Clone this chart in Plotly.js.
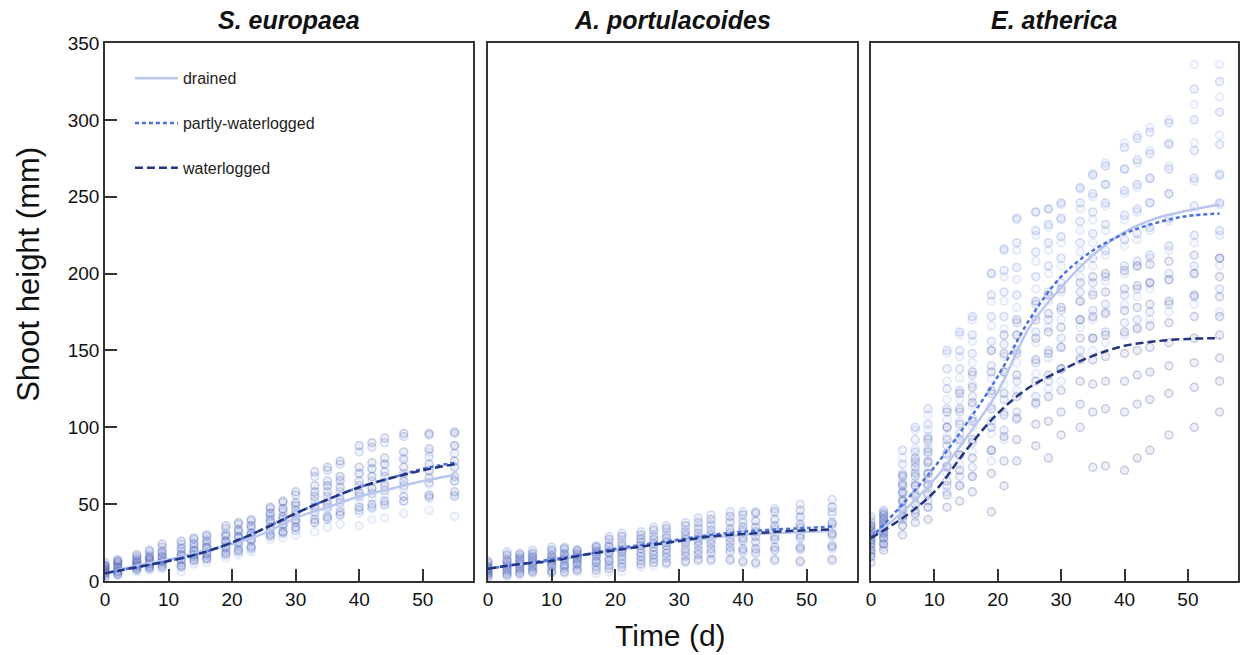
<!DOCTYPE html>
<html>
<head>
<meta charset="utf-8">
<script src="https://cdn.plot.ly/plotly-3.0.1.min.js"></script>
<style>html,body{margin:0;padding:0;background:#fff;}#chart{width:1241px;height:655px;}</style>
</head>
<body>
<div id="chart"></div>
<script>
// ---------- data ----------
const panelTitles = ["S. europaea", "A. portulacoides", "E. atherica"];
const treatments = ["drained", "partly-waterlogged", "waterlogged"];

// sampling days (scatter)
const daysSE = [0,2,5,7,9,12,14,16,19,21,23,26,28,30,33,35,37,40,42,44,47,51,55];
const daysAP = [0,3,5,7,10,12,14,17,19,21,24,26,28,31,33,35,38,40,42,45,49,54];
const daysEA = [0,2,5,7,9,12,14,16,19,21,23,26,28,30,33,35,37,40,42,44,47,51,55];

// S. europaea observations (mm), one list per sampling day
const seDrained = [[3,5,7,9,11],[4,6,8,10,13],[6,8,10,12,15],[7,9,12,14,17],[8,11,13,16,20],[6,10,14,17,22],[11,14,17,20,25],[12,15,18,22,27],[15,19,23,26,31],[17,21,25,29,34],[19,23,27,31,36],[27,31,35,39,44],[28,32,37,41,47],[30,35,39,44,50],[32,38,43,49,58],[35,41,46,52,62],[37,43,48,55,66],[36,44,51,58,70],[40,47,54,61,73],[41,49,56,64,76],[44,52,60,68,80],[46,55,63,71,84],[42,56,65,74,88]];
const sePartly = [[4,6,8,10,12],[5,7,9,11,14],[7,9,11,13,16],[8,10,13,15,19],[9,12,15,18,22],[9,12,16,19,24],[13,16,19,22,27],[14,17,21,24,29],[17,21,25,29,34],[19,23,28,32,37],[21,26,30,34,39],[29,33,38,42,47],[31,35,40,45,51],[33,38,43,49,56],[38,45,52,58,68],[40,48,55,62,72],[43,51,58,65,76],[46,55,62,70,84],[48,57,65,73,87],[50,59,68,76,90],[52,62,70,79,94],[54,64,72,81,95],[55,65,74,83,96]];
const seWater = [[2,5,7,9,10],[4,6,9,12,13],[8,10,12,14,17],[9,11,14,16,20],[10,13,16,19,24],[10,14,17,21,26],[14,17,20,24,28],[15,18,22,26,30],[18,22,26,30,36],[20,25,29,33,38],[22,27,31,36,40],[30,35,40,44,48],[32,37,42,47,52],[35,40,46,51,58],[40,48,55,62,71],[42,50,58,65,74],[45,53,61,68,78],[48,57,65,74,88],[50,60,68,77,90],[52,62,71,80,93],[55,65,74,84,96],[56,67,76,86,96],[58,68,78,88,97]];

// A. portulacoides observations (mm)
const apDrained = [[2,5,7,9,11],[3,6,9,12,16],[4,7,10,13,16],[5,8,11,14,17],[5,9,12,15,19],[5,9,13,16,20],[6,10,13,16,19],[5,10,14,18,22],[6,11,16,20,25],[6,12,17,21,27],[9,14,19,23,28],[10,15,20,25,30],[11,16,21,26,32],[12,17,23,28,33],[13,18,24,29,35],[13,19,25,30,37],[13,20,26,32,39],[12,20,27,33,40],[11,19,26,32,39],[13,20,27,33,40],[12,20,28,34,41],[13,21,29,35,43]];
const apPartly = [[4,6,8,10,13],[5,8,11,14,19],[6,9,12,15,18],[7,10,13,16,20],[7,11,14,17,22],[8,11,15,18,22],[8,12,15,18,20],[9,13,17,20,23],[10,14,19,23,29],[11,16,20,25,31],[13,18,23,27,32],[14,19,24,29,35],[15,20,25,30,36],[16,21,27,32,38],[17,23,28,34,41],[18,24,30,36,43],[19,25,31,38,45],[19,26,32,38,45],[18,25,32,39,45],[20,27,34,40,47],[21,28,35,42,50],[22,30,37,45,53]];
const apWater = [[3,5,7,9,12],[4,7,10,13,17],[5,8,11,14,17],[6,9,12,15,18],[6,10,13,16,20],[6,10,14,17,21],[7,11,14,17,20],[7,12,16,19,22],[8,13,18,22,27],[9,14,19,23,29],[11,16,21,25,30],[12,17,22,27,33],[12,18,23,28,34],[13,19,25,30,36],[14,20,26,31,38],[14,21,27,33,40],[14,22,28,34,42],[13,21,28,35,43],[12,21,29,35,44],[14,22,29,36,45],[13,22,30,37,46],[14,23,31,38,48]];

// E. atherica observations (mm)
const eaDrained = [[16,20,24,27,30,33,36,40],[22,26,30,33,36,39,42,45],[36,42,48,53,58,64,70,80],[42,50,57,64,71,78,86,98],[48,57,66,74,82,90,98,108],[58,70,82,94,105,118,130,148],[62,76,90,104,118,132,146,160],[68,84,100,114,128,142,156,170],[78,96,114,132,150,166,182,200],[92,110,128,146,164,182,198,215],[105,124,142,160,178,196,215,235],[115,135,155,172,190,208,225,240],[125,145,165,182,200,215,230,242],[130,152,170,188,205,220,235,245],[145,165,182,198,214,228,242,255],[150,170,188,205,220,235,250,265],[155,175,195,212,228,244,258,272],[160,180,200,218,235,252,268,285],[165,185,205,222,240,256,272,290],[170,190,210,228,246,262,280,295],[175,196,215,234,252,270,285,300],[180,200,220,240,260,285,310,336],[175,205,225,245,265,290,315,336]];
const eaPartly = [[18,22,26,29,32,35,38,42],[24,28,32,35,38,41,44,46],[40,46,52,58,63,69,76,85],[46,55,62,70,77,84,92,100],[52,62,70,78,86,94,102,112],[62,75,88,100,112,125,138,150],[68,82,96,110,124,138,150,162],[74,90,106,120,134,148,160,172],[85,104,122,140,156,172,186,200],[98,118,136,154,172,188,202,216],[110,130,150,168,186,204,220,236],[120,142,162,180,198,214,228,240],[130,150,170,188,205,220,232,242],[138,158,176,194,210,224,236,246],[150,170,188,204,220,234,246,256],[158,176,194,210,226,240,252,264],[162,180,198,215,232,246,258,270],[168,186,205,222,238,254,268,282],[170,190,208,226,242,258,274,288],[175,194,212,230,246,262,278,292],[180,200,218,236,252,268,284,298],[185,205,225,244,262,280,300,320],[190,210,228,246,264,284,305,325]];
const eaWater = [[12,16,20,24,27,30,33,36],[20,24,28,31,34,37,40,43],[30,36,42,47,52,57,62,68],[38,44,50,56,62,68,74,80],[40,48,56,63,70,77,84,92],[48,56,65,74,83,92,100,110],[52,62,72,82,92,102,112,122],[58,68,80,92,104,116,126,136],[45,70,85,100,112,124,136,150],[62,78,94,108,122,136,148,160],[78,92,106,120,134,148,160,170],[88,102,116,130,144,158,170,182],[80,104,120,134,148,162,174,186],[95,110,124,138,152,165,178,190],[100,115,130,144,158,170,182,194],[74,110,128,144,158,172,186,198],[75,112,130,146,160,174,188,200],[72,110,130,148,162,176,190,202],[80,115,134,150,164,178,192,205],[85,118,136,152,166,180,194,206],[95,122,140,155,168,182,196,208],[100,126,142,158,172,186,200,212],[110,130,145,160,172,185,198,210]];

// fitted curves
const curveDaysSE = [0,5,10,15,20,25,30,35,40,45,50,55];
const seFitDrained = [5,10,14,19,24,31,41,48,55,60,65,69];
const seFitPartly  = [5,9,13,18,25,34,44,53,61,67,73,77];
const seFitWater   = [5,9,13,18,25,34,44,53,61,67,72,76];

const curveDaysAP = [0,5,10,15,20,25,30,35,40,45,50,54];
const apFitDrained = [8,11,13,17,20,23,26,28,30,31,32,32.5];
const apFitPartly  = [8,11,14,17,21,24,27,30,32,33.5,34.5,35.5];
const apFitWater   = [8,11,13,17,20,23,26,29,30.5,32,33,33.5];

const curveDaysEA = [0,5,10,15,20,25,30,35,40,45,50,55];
const eaFitDrained = [28,45,66,93,123,165,191,212,227,236,241,245];
const eaFitPartly  = [28,50,74,102,133,170,198,215,226,233,237.5,239];
const eaFitWater   = [28,41,58,85,109,126,137,146.5,153,156,157.5,158];

const xTickVals = [0,10,20,30,40,50];
const yTickVals = [0,50,100,150,200,250,300,350];

// ---------- styles ----------
const ptColor = ["rgba(140,165,230,", "rgba(70,105,215,", "rgba(35,55,140,"];
const lineColor = ["#b9c7f0", "#4a6fe0", "#22357e"];
const lineDash = ["solid", "4px,3px", "8px,4px"];

const panels = [
  {days: daysSE, obs: [seDrained, sePartly, seWater], cd: curveDaysSE, fit: [seFitDrained, seFitPartly, seFitWater]},
  {days: daysAP, obs: [apDrained, apPartly, apWater], cd: curveDaysAP, fit: [apFitDrained, apFitPartly, apFitWater]},
  {days: daysEA, obs: [eaDrained, eaPartly, eaWater], cd: curveDaysEA, fit: [eaFitDrained, eaFitPartly, eaFitWater]}
];

const traces = [];
panels.forEach((p, pi) => {
  const xa = pi === 0 ? "x" : "x" + (pi + 1);
  const ya = pi === 0 ? "y" : "y" + (pi + 1);
  p.obs.forEach((obs, ti) => {
    const xs = [], ys = [];
    obs.forEach((vals, di) => vals.forEach(v => { xs.push(p.days[di]); ys.push(v); }));
    traces.push({
      type: "scatter", mode: "markers", x: xs, y: ys, xaxis: xa, yaxis: ya,
      showlegend: false, hoverinfo: "skip",
      marker: {symbol: "circle", size: 8, color: ptColor[ti] + "0.08)",
               line: {color: ptColor[ti] + "0.22)", width: 1.5}}
    });
  });
});
panels.forEach((p, pi) => {
  const xa = pi === 0 ? "x" : "x" + (pi + 1);
  const ya = pi === 0 ? "y" : "y" + (pi + 1);
  p.fit.forEach((f, ti) => {
    traces.push({
      type: "scatter", mode: "lines", x: p.cd, y: f, xaxis: xa, yaxis: ya,
      name: treatments[ti], legendgroup: treatments[ti], showlegend: pi === 0,
      line: {color: lineColor[ti], width: 2.5, dash: lineDash[ti], shape: "spline", smoothing: 1}
    });
  });
});

const doms = [[0, 0.3248], [0.338, 0.6637], [0.676, 1]];
const axisFont = {family: "Liberation Sans, Arial, sans-serif", size: 19, color: "#111"};
const layout = {
  width: 1241, height: 655,
  margin: {l: 105, r: 3, t: 43, b: 74},
  paper_bgcolor: "#fff", plot_bgcolor: "#fff",
  font: {family: "Liberation Sans, Arial, sans-serif", color: "#111"},
  showlegend: true,
  legend: {x: 0.022, y: 0.966, xanchor: "left", yanchor: "top", bgcolor: "rgba(0,0,0,0)",
           font: {size: 16, color: "#222"}, tracegroupgap: 21, itemwidth: 43},
  annotations: [
    {text: "Shoot height (mm)", xref: "paper", yref: "paper", x: -0.0675, y: 0.57, textangle: -90,
     showarrow: false, font: {size: 31, color: "#111"}, xanchor: "center", yanchor: "middle"},
    {text: "Time (d)", xref: "paper", yref: "paper", x: 0.4987, y: -0.101, showarrow: false,
     font: {size: 30, color: "#111"}, xanchor: "center", yanchor: "middle"}
  ]
};
doms.forEach((d, i) => {
  const k = i === 0 ? "" : String(i + 1);
  layout["xaxis" + k] = {
    domain: d, range: [0, 57.9], tickvals: xTickVals, ticks: "inside", ticklen: 12, tickwidth: 1.5,
    tickcolor: "#333", showline: true, linecolor: "#333", linewidth: 1.5, mirror: true,
    showgrid: false, zeroline: false, tickfont: axisFont, anchor: "y" + k
  };
  layout["yaxis" + k] = {
    domain: [0, 1], range: [0, 350], tickvals: yTickVals, ticks: i === 0 ? "inside" : "",
    ticklen: 12, tickwidth: 1.5, tickcolor: "#333", showticklabels: i === 0,
    showline: true, linecolor: "#333", linewidth: 1.5, mirror: true,
    showgrid: false, zeroline: false, tickfont: axisFont, anchor: "x" + k
  };
  layout.annotations.push({
    text: "<b><i>" + panelTitles[i] + "</i></b>", xref: "paper", yref: "paper",
    x: (d[0] + d[1]) / 2, y: 1.042, showarrow: false, xanchor: "center", yanchor: "middle",
    font: {size: 25, color: "#111"}
  });
});

Plotly.newPlot("chart", traces, layout, {displayModeBar: false, responsive: false});
</script>
</body>
</html>
